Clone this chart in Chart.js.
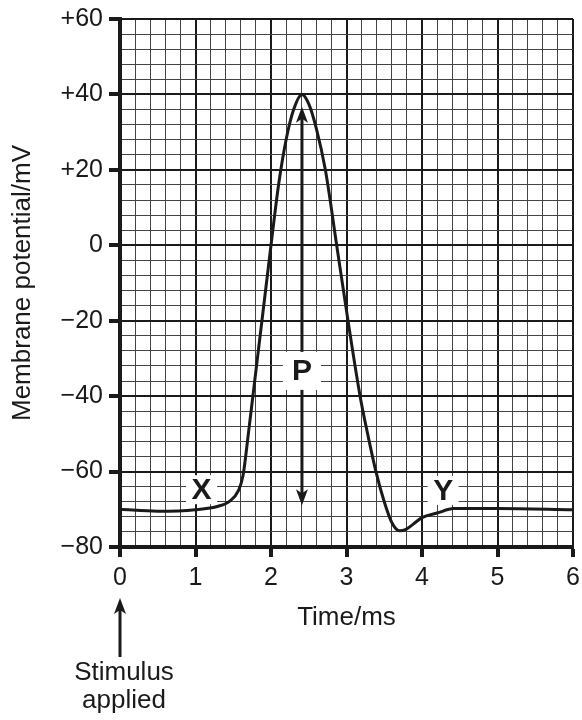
<!DOCTYPE html>
<html>
<head>
<meta charset="utf-8">
<script src="https://cdn.jsdelivr.net/npm/chart.js@4/dist/chart.umd.min.js"></script>
<style>
  body { margin: 0; background: #fff; }
  canvas { display: block; }
</style>
</head>
<body>
<canvas id="apChart" width="582" height="720"></canvas>
<script>
// time (ms) and membrane potential (mV)
const timeMs = [0, 0.5, 1.0, 1.3, 1.45, 1.57, 1.63, 1.7, 1.76, 1.88, 2.0, 2.1, 2.2, 2.3, 2.41,
    2.5, 2.6, 2.72, 2.87, 3.02, 3.18, 3.28, 3.39, 3.5, 3.6, 3.7, 3.78, 3.88, 4.0,
    4.2, 4.42, 5.0, 6.0];
const potentialMv = [-70, -70.5, -70.1, -69.2, -67.9, -65.0, -61, -50, -40, -20, 0, 16, 28, 36, 40,
    37.5, 31, 20, 0, -20, -40, -50, -60, -68, -73.5, -75.7, -75.4, -74, -72.2,
    -71, -69.8, -69.8, -70.1];

const xTickLabels = ['0', '1', '2', '3', '4', '5', '6'];
const yTickLabels = ['\u221280', '\u221260', '\u221240', '\u221220', '0', '+20', '+40', '+60'];

// letters on the graph (data coords)
const markLetters = ['X', 'P', 'Y'];
const markTimes = [1.08, 2.41, 4.28];
const markValues = [-64.8, -33.3, -65];

// double arrow P spans these values
const arrowTime = 2.41;
const arrowFrom = 36.7;
const arrowTo = -68.9;

const FONT = '"Liberation Sans", Arial, Helvetica, sans-serif';
Chart.defaults.font.family = FONT;
Chart.defaults.color = '#1a1a1a';

function isWhole(v, step) {
    const r = v / step;
    return Math.abs(r - Math.round(r)) < 1e-6;
}

function arrowHead(ctx, x, y, dir) {
    // dir = -1 points up, 1 points down
    ctx.beginPath();
    ctx.moveTo(x, y);
    ctx.lineTo(x - 6, y - dir * 16);
    ctx.lineTo(x, y - dir * 12);
    ctx.lineTo(x + 6, y - dir * 16);
    ctx.closePath();
    ctx.fill();
}

const annotations = {
    id: 'annotations',
    afterDatasetsDraw(chart) {
        const ctx = chart.ctx;
        const xs = chart.scales.x, ys = chart.scales.y;
        ctx.save();
        ctx.fillStyle = '#1a1a1a';
        ctx.strokeStyle = '#1a1a1a';

        // P arrow
        const ax = xs.getPixelForValue(arrowTime);
        const y1 = ys.getPixelForValue(arrowFrom);
        const y2 = ys.getPixelForValue(arrowTo);
        ctx.lineWidth = 3;
        ctx.beginPath();
        ctx.moveTo(ax, y1 + 10);
        ctx.lineTo(ax, y2 - 10);
        ctx.stroke();
        arrowHead(ctx, ax, y1, -1);
        arrowHead(ctx, ax, y2, 1);

        // letters in white boxes
        ctx.font = 'bold 30px ' + FONT;
        ctx.textAlign = 'center';
        ctx.textBaseline = 'middle';
        markLetters.forEach((txt, i) => {
            const px = xs.getPixelForValue(markTimes[i]);
            const py = ys.getPixelForValue(markValues[i]);
            const w = txt === 'P' ? 38 : 31;
            const h = txt === 'P' ? 38 : 29;
            ctx.fillStyle = '#fff';
            ctx.fillRect(px - w / 2, py - h / 2, w, h);
            ctx.fillStyle = '#1a1a1a';
            ctx.fillText(txt, px, py + 1);
        });
        ctx.restore();
    },
    afterDraw(chart) {
        const ctx = chart.ctx;
        const x0 = chart.scales.x.getPixelForValue(0);
        ctx.save();
        ctx.fillStyle = '#1a1a1a';
        ctx.strokeStyle = '#1a1a1a';
        ctx.lineWidth = 3;
        ctx.beginPath();
        ctx.moveTo(x0, 610);
        ctx.lineTo(x0, 657);
        ctx.stroke();
        arrowHead(ctx, x0, 598, -1);
        ctx.font = '26px ' + FONT;
        ctx.textAlign = 'center';
        ctx.textBaseline = 'alphabetic';
        ctx.fillText('Stimulus', x0 + 4, 680);
        ctx.fillText('applied', x0 + 4, 708);
        ctx.restore();
    }
};

const ctx = document.getElementById('apChart').getContext('2d');
new Chart(ctx, {
    type: 'line',
    data: {
        datasets: [{
            data: timeMs.map((t, i) => ({ x: t, y: potentialMv[i] })),
            borderColor: '#1a1a1a',
            borderWidth: 3,
            pointRadius: 0,
            cubicInterpolationMode: 'monotone',
            fill: false
        }]
    },
    options: {
        responsive: false,
        animation: false,
        layout: { padding: { top: 19, right: 9, left: 0, bottom: 0 } },
        plugins: { legend: { display: false }, tooltip: { enabled: false } },
        scales: {
            x: {
                type: 'linear',
                min: 0,
                max: 6,
                afterFit: s => { s.height = 173; s.paddingLeft = 0; s.paddingRight = 0; },
                border: { color: '#1a1a1a', width: 4 },
                grid: {
                    color: c => isWhole(c.tick.value, 1) ? '#1a1a1a' : '#444',
                    lineWidth: c => isWhole(c.tick.value, 1) ? 2 : 1,
                    tickColor: c => isWhole(c.tick.value, 1) ? '#1a1a1a' : 'rgba(0,0,0,0)',
                    tickWidth: 4,
                    tickLength: 10
                },
                ticks: {
                    stepSize: 0.2,
                    autoSkip: false,
                    maxRotation: 0,
                    padding: 6,
                    font: { size: 25 },
                    callback: v => isWhole(v, 1) ? xTickLabels[Math.round(v)] : ''
                },
                title: {
                    display: true,
                    text: 'Time/ms',
                    font: { size: 26 },
                    padding: { top: 0, bottom: 87 }
                }
            },
            y: {
                min: -80,
                max: 60,
                afterFit: s => { s.width = 120; s.paddingTop = 0; s.paddingBottom = 0; },
                border: { color: '#1a1a1a', width: 4 },
                grid: {
                    color: c => isWhole(c.tick.value, 20) ? '#1a1a1a' : '#444',
                    lineWidth: c => isWhole(c.tick.value, 20) ? 2 : 1,
                    tickColor: c => isWhole(c.tick.value, 20) ? '#1a1a1a' : 'rgba(0,0,0,0)',
                    tickWidth: 4,
                    tickLength: 11
                },
                ticks: {
                    stepSize: 4,
                    autoSkip: false,
                    padding: 6,
                    font: { size: 25 },
                    callback: v => isWhole(v, 20) ? yTickLabels[Math.round((v + 80) / 20)] : ''
                },
                title: {
                    display: true,
                    text: 'Membrane potential/mV',
                    font: { size: 26 },
                    padding: { top: 7, bottom: 0 }
                }
            }
        }
    },
    plugins: [annotations]
});
</script>
</body>
</html>
